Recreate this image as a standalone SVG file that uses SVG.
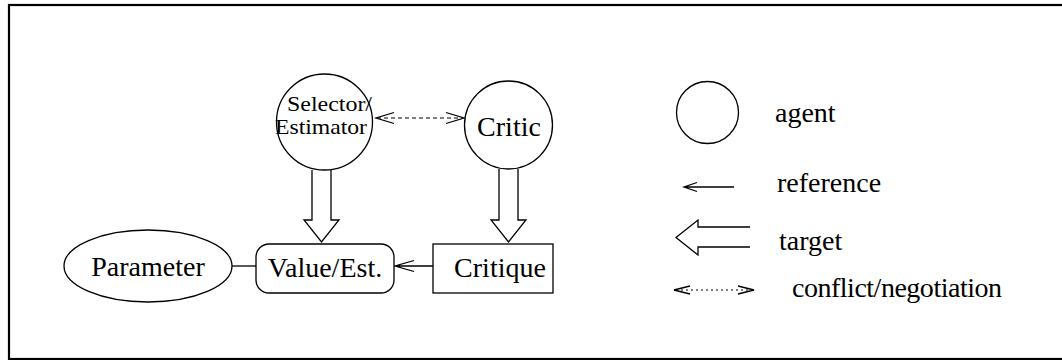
<svg xmlns="http://www.w3.org/2000/svg" width="1062" height="360" viewBox="0 0 1062 360">
  <style>
    .shape { fill: #fff; stroke: #000; stroke-width: 1.3; }
    .line { fill: none; stroke: #000; stroke-width: 1.3; }
    .dash { fill: none; stroke: #000; stroke-width: 1.2; stroke-dasharray: 4 3; }
    .dot { fill: none; stroke: #000; stroke-width: 1.1; stroke-dasharray: 2 3; }
    text { font-family: "Liberation Serif", "DejaVu Serif", "Times New Roman", serif; font-size: 28px; fill: #000; }
    .small { font-size: 21px; }
  </style>

  <rect width="1062" height="360" fill="#fff"/>
  <!-- frame -->
  <rect x="9" y="5" width="1080" height="354" fill="none" stroke="#000" stroke-width="2.2"/>

  <!-- connectors -->
  <g id="connectors">
    <!-- Selector/Estimator -> Value/Est. (target) -->
    <path class="line" d="M312,170 L312,220 L304,220 L321.5,242 L339,220 L331,220 L331,170"/>
    <!-- Critic -> Critique (target) -->
    <path class="line" d="M499,169 L499,220 L491,220 L508.5,242 L526,220 L518,220 L518,169"/>
    <!-- Critique -> Value/Est. (reference) -->
    <path class="line" d="M433,266 L395,266 M414,260.5 L395,266 L414,271.5"/>
    <!-- Parameter — Value/Est. -->
    <path class="line" d="M232,266 L256,266"/>
    <!-- Selector/Estimator <-> Critic (conflict/negotiation) -->
    <path class="dash" d="M377,118 L462,118"/>
    <path class="line" d="M394,112.5 L376,118 L394,123.5 M446,112.5 L464,118 L446,123.5"/>
  </g>

  <g id="selector">
    <circle class="shape" cx="324.5" cy="122" r="48"/>
    <text class="small" x="287" y="111" textLength="85" lengthAdjust="spacingAndGlyphs">Selector/</text>
    <text class="small" x="275" y="134" textLength="92" lengthAdjust="spacingAndGlyphs">Estimator</text>
  </g>

  <g id="critic">
    <circle class="shape" cx="508.5" cy="125" r="44"/>
    <text x="509" y="136" text-anchor="middle">Critic</text>
  </g>

  <g id="parameter">
    <ellipse class="shape" cx="148" cy="266" rx="84" ry="36"/>
    <text x="148" y="276" text-anchor="middle">Parameter</text>
  </g>

  <g id="value">
    <rect class="shape" x="256" y="244" width="138" height="49" rx="13"/>
    <text x="325" y="277" text-anchor="middle">Value/Est.</text>
  </g>

  <g id="critique">
    <rect class="shape" x="433" y="244" width="120" height="49"/>
    <text x="500" y="277" text-anchor="middle">Critique</text>
  </g>

  <!-- legend -->
  <g id="legend">
    <circle class="shape" cx="707.5" cy="112.5" r="31"/>
    <text x="775" y="122">agent</text>

    <path class="line" d="M734,187 L684,187 M697,182.5 L684,187 L697,191.5"/>
    <text x="777" y="192">reference</text>

    <path class="line" d="M750,227 L698,227 L698,220 L676,237.5 L698,255 L698,247 L750,247"/>
    <text x="779" y="250">target</text>

    <path class="dot" d="M676,290 L753,290"/>
    <path class="line" d="M690,286 L674,290 L690,294 M738,286 L754,290 L738,294"/>
    <text x="792" y="297" textLength="210">conflict/negotiation</text>
  </g>
</svg>
